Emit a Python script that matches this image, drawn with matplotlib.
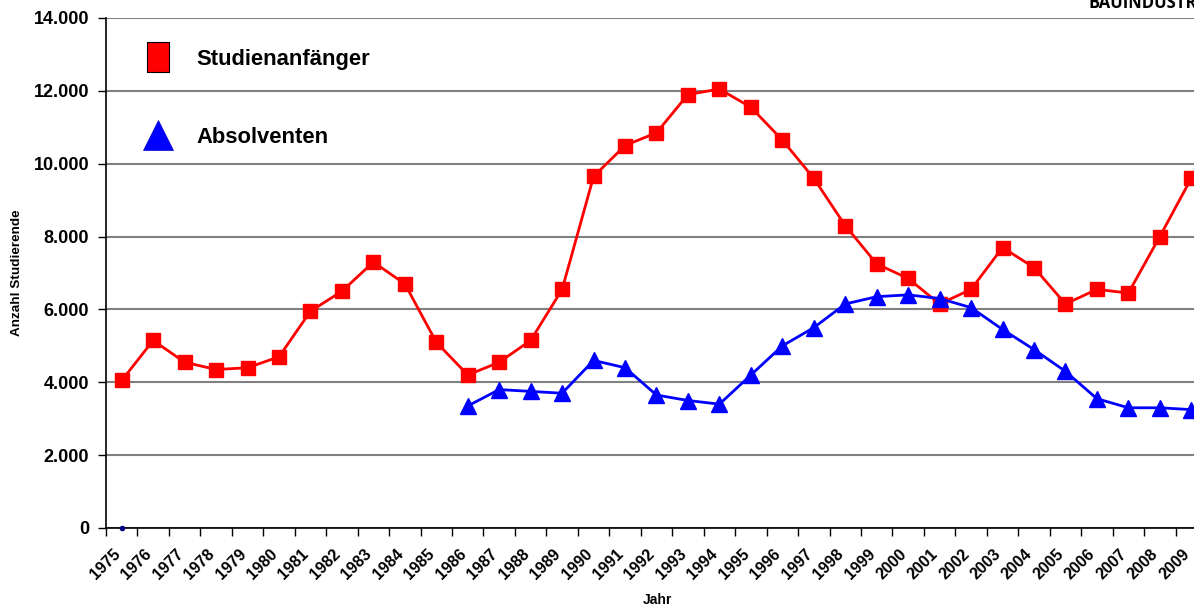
import numpy as np
import matplotlib
matplotlib.use("Agg")
import matplotlib.pyplot as plt
from matplotlib.lines import Line2D
from matplotlib.transforms import ScaledTranslation

plt.rcParams['font.family'] = ['Liberation Sans', 'DejaVu Sans']
plt.rcParams['font.weight'] = 'bold'

jahre = list(range(1975, 2010))
studienanfaenger = [4050, 5150, 4550, 4350, 4400, 4700, 5950, 6500, 7300, 6700,
                    5100, 4200, 4550, 5150, 6550, 9650, 10500, 10850, 11900, 12050,
                    11550, 10650, 9600, 8300, 7250, 6850, 6150, 6550, 7700, 7150,
                    6150, 6550, 6450, 8000, 9600]
# Absolventen erst ab 1986
absolventen = [None] * 11 + [3350, 3800, 3750, 3700, 4600, 4400, 3650, 3500, 3400,
                             4200, 5000, 5500, 6150, 6350, 6400, 6300, 6050, 5450, 4900,
                             4300, 3550, 3300, 3300, 3250]
punkt_1975 = 0

x = np.arange(len(jahre))
abs_vals = np.array([np.nan if v is None else v for v in absolventen], dtype=float)

fig = plt.figure(figsize=(11.94, 6.04), dpi=100)
ax = fig.add_axes([106 / 1194, 76 / 604, 1101 / 1194, 510 / 604])

ax.plot(x, studienanfaenger, color='#ff0000', lw=2, marker='s', ms=9.5,
        mfc='#ff0000', mec='#ff0000', zorder=3)
ax.plot(x, abs_vals, color='#0000ff', lw=2, marker='^', ms=11.5,
        mfc='#0000ff', mec='#0000ff', zorder=3)
ax.plot([0], [punkt_1975], color='#000080', marker='o', ms=3, ls='none',
        zorder=4, clip_on=False)

ax.set_xlim(-0.5, len(jahre) - 0.5)
ax.set_ylim(0, 14000)
ax.set_yticks(range(0, 14001, 2000))
ax.set_yticklabels([f"{v:,}".replace(",", ".") for v in range(0, 14001, 2000)],
                   fontsize=13, fontweight='bold')
ax.yaxis.grid(True, color='#808080', lw=1.5)
ax.set_axisbelow(True)

ax.set_xticks(x)
ax.set_xticklabels([str(j) for j in jahre], rotation=45, ha='right', va='center',
                   rotation_mode='anchor', fontsize=11.5, fontweight='bold')
ax.tick_params(axis='x', which='major', length=0, pad=17)
shift = ScaledTranslation(-4 / 100, 0, fig.dpi_scale_trans)
for lbl in ax.get_xticklabels():
    lbl.set_transform(lbl.get_transform() + shift)
ax.set_xticks(np.arange(-0.5, len(jahre), 1), minor=True)
ax.tick_params(axis='x', which='minor', length=6, width=1, direction='out')
ax.tick_params(axis='y', length=6, width=1, direction='out', pad=6)

for s in ['top', 'right']:
    ax.spines[s].set_visible(False)
for s in ['left', 'bottom']:
    ax.spines[s].set_linewidth(1.2)

fig.text(17 / 1194, 1 - 273 / 604, 'Anzahl Studierende', rotation=90,
         fontsize=9.7, fontweight='bold', ha='center', va='center')
fig.text(657 / 1194, 1 - 593 / 604, 'Jahr', fontsize=10, fontweight='bold',
         ha='center', va='top')

rect = [(-0.37, -0.5), (0.37, -0.5), (0.37, 0.5), (-0.37, 0.5), (-0.37, -0.5)]
handles = [Line2D([], [], color='#ff0000', marker=rect, ls='none', ms=21.6,
                  mec='black', mew=0.8),
           Line2D([], [], color='#0000ff', marker='^', ms=21.6, ls='none',
                  mec='#0000cc', mew=0.5)]
ax.legend(handles, ['Studienanfänger', 'Absolventen'], loc='upper left',
          bbox_to_anchor=(0.0322, 0.939), frameon=False, labelspacing=2.6,
          handlelength=1.5, handletextpad=1.0, borderpad=0, borderaxespad=0,
          prop={'size': 15.8, 'weight': 'bold'})

fig.text(1089 / 1194, 1 - 8 / 604, 'BAUINDUSTRIE', fontsize=12, fontweight='bold',
         va='baseline', ha='left', family=['Open Sans', 'DejaVu Sans'])

fig.savefig('out.png', dpi=100)
